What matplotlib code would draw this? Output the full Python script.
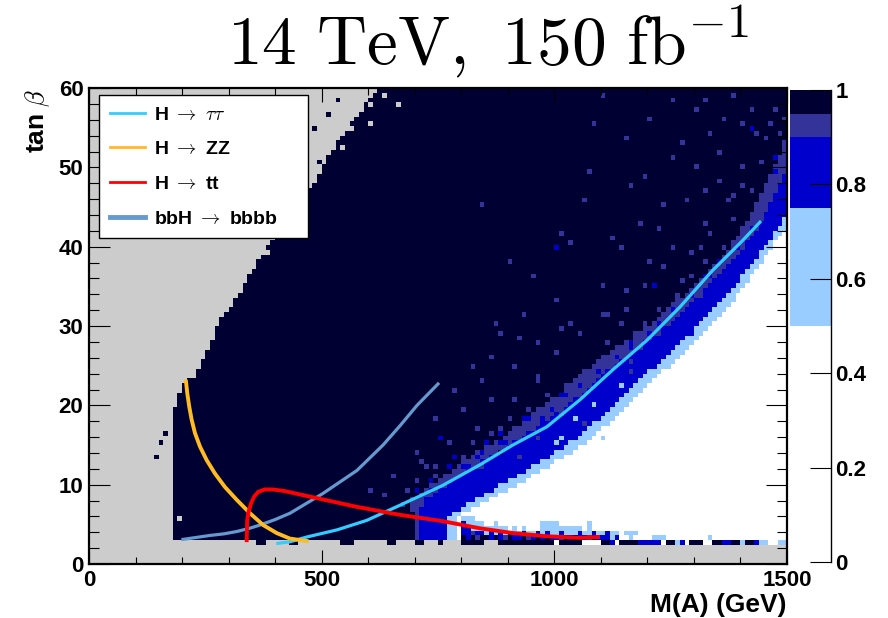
# 2D efficiency map in the (M(A), tan beta) plane with the decay-channel contours on top

import numpy as np
import matplotlib
matplotlib.use("Agg")
import matplotlib.pyplot as plt
from matplotlib.colors import ListedColormap, BoundaryNorm
from matplotlib.lines import Line2D

plt.rcParams['mathtext.fontset'] = 'cm'
plt.rcParams['font.family'] = ['Liberation Sans', 'DejaVu Sans']
plt.rcParams['font.weight'] = 'bold'

# --- histogram binning (10 GeV x 0.6) ---
m_edges = np.arange(0, 1510, 10)
tb_edges = np.round(np.arange(0, 60.001, 0.6), 1)

# --- region boundaries ---
# left edge of the filled region (below it: empty, grey)
left_tb = [3.0, 15, 19, 21, 23, 23.6, 25.5, 28, 30, 31.5, 33.5, 35, 37.5, 41, 44, 47.5, 50, 53, 56, 60]
left_m = [178, 178, 182, 190, 207, 232, 240, 262, 280, 295, 317, 330, 358, 394, 430, 478, 500, 531, 570, 620]

# left edge of the white (< 0.5) region
white_tb = [6, 8.7, 11.8, 15.6, 20, 24.5, 28.9, 33.3, 38.1, 42.7, 48, 60]
white_m = [790, 880, 975, 1075, 1160, 1238, 1318, 1385, 1445, 1500, 1545, 1650]

# band widths (GeV) left of the white region
band_tb = [6, 8, 13, 20, 25, 30, 40, 50, 60]
lightblue_w = [20, 30, 35, 30, 30, 25, 15, 15, 15]
blue_w = [60, 110, 130, 100, 90, 70, 45, 45, 45]
purple_w = [10, 30, 40, 50, 50, 40, 30, 30, 30]

# lowest row (tan b 2.4-3.0), one char per 10 GeV bin, 0..1500
bottom_row = ("gggggggggg" "gggggggggg" "gggggggggg" "ggggggddgg" "gggddggggg"
              "ggggdddggg" "ggggddgggg" "ddgggdgggg"
              "dddddgggdd" "dddddddddd" "wdddddwwww" "ddbwddddbb"
              "bbbwddlbwd" "ddwwddbbdd" "lddbllwwll")

# rows tan b 3.0-6.0 below the white region, M = 800..1490
low_rows = [
    "dbdpddbdbp" "dbbdpbdbdb" "bpdbdbbpdb" "bblbwwlwww" "wlllwwwwww" "wwwlwwwwww" "wwwwwwwwww",
    "bbpbblblbl" "bllbllblbl" "lblllbllbl" "lbllwlllww" "wwwwwwwwww" "wwwwwwwwww" "wwwwwwwwww",
    "bbllllllll" "wlwlwwwlll" "llllllwlww" "wwwwwwwwww" "wwwwwwwwww" "wwwwwwwwww" "wwwwwwwwww",
    "bllllwwlww" "wwwwwwwlll" "lwwwwwwlww" "wwwwwwwwww" "wwwwwwwwww" "wwwwwwwwww" "wwwwwwwwww",
    "lllwwwwwww" "wwwwwwwwww" "wwwwwwwwww" "wwwwwwwwww" "wwwwwwwwww" "wwwwwwwwww" "wwwwwwwwww",
]

# isolated bins: purple
purple_m = [1109, 1328, 1384, 1083, 1274, 1431, 1072, 845, 1062, 1371, 1384, 1227, 1016, 1330, 1313,
            1038, 1296, 1363, 1141, 1234, 1163, 1191, 1380, 1420, 1485, 1285, 1328, 1414, 1191, 1158,
            1270, 1313, 1249, 1038, 1100, 862, 926, 963, 1012, 1034, 1091, 1113, 1169, 1141, 911,
            948, 883, 862, 933, 847, 1169, 1055, 969, 926, 840, 869, 911, 962, 1005, 1055, 1113,
            883, 933, 718, 746, 632, 675, 776, 834, 804, 862, 1440, 1490, 1400, 1350, 1430,
            1490, 1480, 1495, 1470, 1460, 1450, 1420, 1400, 1360, 1330, 1300, 1250, 1200, 1150,
            1250, 1300, 1350, 1400, 1320, 1230, 1180, 1120, 1250, 1200, 1100, 1150, 1000, 950,
            900, 870, 820, 780, 740, 700, 650, 600, 1010, 1060, 960, 890, 830, 760, 720, 690,
            680, 720, 700, 750, 740, 790, 800, 850, 820, 870, 860, 910, 900, 950, 960, 1010,
            980, 1030, 1020, 1070, 1060, 1090, 1100, 1150, 1130, 1180, 1170, 1220, 1190, 1240,
            1220, 1260, 1300, 1290, 1320, 1370, 1360, 1400]
purple_tb = [58.9, 58.3, 58.9, 55.6, 53.0, 54.3, 49.7, 45.0, 45.6, 45.6, 43.7, 42.5, 41.7, 41.7, 40.0,
             40.5, 39.2, 38.1, 39.6, 37.5, 47.5, 49.0, 46.5, 46.9, 49.0, 45.6, 43.1, 42.4, 35.4, 34.3,
             35.5, 33.6, 32.0, 30.1, 31.2, 26.1, 28.2, 22.8, 29.9, 22.3, 25.3, 27.6, 25.7, 30.3, 20.7,
             19.4, 16.9, 14.8, 16.5, 12.4, 24.5, 21.0, 16.0, 13.5, 22.8, 20.7, 24.9, 27.9, 26.6, 29.1,
             31.6, 29.1, 31.5, 13.1, 11.0, 8.9, 7.2, 15.2, 17.3, 19.4, 20.7, 50.5, 52.0, 50.0, 48.0, 45.0,
             56.0, 54.5, 53.0, 57.5, 55.5, 53.5, 57.0, 55.5, 56.0, 54.0, 57.0, 58.5, 56.0, 53.5,
             51.0, 50.0, 52.0, 47.5, 47.0, 45.0, 43.0, 41.0, 40.0, 38.0, 35.0, 32.0, 33.0, 36.0,
             38.0, 30.0, 25.0, 22.0, 18.0, 14.0, 11.0, 9.0, 19.0, 17.5, 23.5, 14.5, 12.0, 10.5, 12.5, 8.0,
             9.0, 9.0, 10.5, 10.5, 12.0, 12.0, 13.5, 13.5, 15.0, 15.0, 16.5, 16.5, 18.0, 18.0, 19.5, 19.5,
             21.0, 21.0, 22.5, 22.5, 24.0, 24.0, 26.0, 26.0, 27.5, 27.5, 29.0, 29.0, 30.5, 30.5,
             32.0, 34.0, 34.0, 36.0, 38.0, 38.0, 40.0, 42.0]
# isolated bins: blue
blue_m = [1425, 1000, 1285, 1212, 1330, 1350, 1260, 1200, 1120, 1050, 980, 900, 820, 760, 750, 847,
          1470, 1450, 1475, 1495, 940, 1020, 880, 800, 730, 1090, 1160,
          700, 730, 770, 810, 780, 830, 850, 890, 880, 940, 930, 970, 990, 1030, 1010,
          1050, 1090, 1110, 1130, 1170, 1160, 1200, 1220, 1250, 1290, 1320, 1350, 1390, 1420]
blue_tb = [55.0, 40.0, 31.2, 35.4, 36.5, 35.0, 30.5, 27.0, 22.0, 18.0, 14.0, 11.0, 9.0, 7.5, 15.6, 14.0,
           51.5, 44.0, 49.5, 48.5, 18.5, 21.5, 15.5, 12.0, 9.5, 24.0, 28.0,
           9.0, 10.5, 12.0, 12.0, 13.5, 13.5, 15.0, 15.0, 16.5, 16.5, 18.0, 18.0, 19.5, 19.5, 21.0,
           22.5, 22.5, 24.0, 26.0, 26.0, 27.5, 29.0, 30.5, 32.0, 34.0, 36.0, 38.0, 40.0, 42.0]
# isolated bins: light blue inside the blue band
lblue_m = [1141, 1083, 1095, 1100, 1000, 1010, 1048]
lblue_tb = [22.3, 19.8, 17.5, 16.2, 15.0, 16.0, 18.0]
# isolated bins: dark (inside the band / out in the grey)
dark_m = [898, 948, 883, 997, 1034, 1084, 1141, 1198, 534, 516, 484, 492, 482, 285, 274, 146, 162, 155]
dark_tb = [17.3, 20.7, 14.3, 22.8, 25.0, 27.3, 29.1, 31.5, 58.3, 56.4, 55.0, 50.9, 47.1, 31.1, 29.7, 13.3, 16.6, 15.3]
# isolated empty bins near the left edge
empty_m = [604, 600, 568, 546, 389, 178, 196, 664, 630]
empty_tb = [57.9, 55.6, 55.0, 52.2, 39.2, 14.0, 5.9, 57.6, 59.3]

# --- channel curves ---
tautau_m = [406, 432, 468, 533, 597, 668, 760, 840, 911, 984, 1055, 1126, 1199, 1270, 1340, 1400, 1442]
tautau_tb = [2.6, 2.8, 3.4, 4.3, 5.5, 7.4, 9.9, 12.5, 15.0, 17.3, 20.7, 24.5, 28.2, 32.4, 37.0, 40.5, 43.1]

zz_m = [208.5, 211.3, 215.6, 220.6, 227.8, 238.6, 252.9, 270.8, 292.3, 317.4, 346, 374.6, 403.4, 432, 467.9]
zz_tb = [23.0, 21.5, 19.8, 18.2, 16.5, 14.8, 13.1, 11.4, 9.7, 8.1, 6.4, 4.9, 3.9, 3.2, 2.9]

tt_m = [339, 340, 343, 348, 355, 364, 378, 395, 420, 490, 576, 668, 760, 840, 911, 984, 1055, 1094]
tt_tb = [3.0, 5.5, 6.6, 7.6, 8.5, 9.1, 9.4, 9.4, 9.2, 8.3, 7.2, 6.2, 5.4, 4.5, 3.9, 3.5, 3.3, 3.4]

bbbb_m = [202, 260, 290, 318, 345, 367, 400, 432, 503, 576, 632, 668, 705, 750]
bbbb_tb = [3.1, 3.6, 3.8, 4.1, 4.5, 4.9, 5.6, 6.4, 8.9, 11.8, 15.0, 17.4, 20.0, 22.7]

# --- palette ---
levels = [0, 0.5, 0.75, 0.9, 0.95, 1.0]
palette = ['#ffffff', '#99ccff', '#0000cc', '#333399', '#000033']
code = {'g': np.nan, 'w': 0.3, 'l': 0.6, 'b': 0.85, 'p': 0.92, 'd': 0.97}

# build the histogram from the boundaries above
nx, ny = len(m_edges) - 1, len(tb_edges) - 1
m_c = m_edges[:-1] + 5.0
z = np.full((ny, nx), np.nan)
for j in range(ny):
    t = tb_edges[j] + 0.3
    if t < 2.4:
        continue
    if t < 3.0:
        z[j] = [code[c] for c in bottom_row]
        continue
    edge = np.interp(t, white_tb, white_m)
    w1 = np.interp(t, band_tb, lightblue_w)
    w2 = w1 + np.interp(t, band_tb, blue_w)
    w3 = w2 + np.interp(t, band_tb, purple_w)
    d = edge - m_c
    row = np.where(d < 0, 0.3, np.where(d < w1, 0.6, np.where(d < w2, 0.85, np.where(d < w3, 0.92, 0.97))))
    if t < 6.0:
        k = int((t - 3.0) // 0.6)
        row[80:] = [code[c] for c in low_rows[k]]
    row[m_c < np.interp(t, left_tb, left_m)] = np.nan
    z[j] = row

for ms, ts, c in [(purple_m, purple_tb, 'p'), (blue_m, blue_tb, 'b'), (lblue_m, lblue_tb, 'l'),
                  (dark_m, dark_tb, 'd'), (empty_m, empty_tb, 'g')]:
    for m, t in zip(ms, ts):
        z[int(t // 0.6), int(m // 10)] = code[c]

cmap = ListedColormap(palette)
norm = BoundaryNorm(levels, cmap.N)

fig = plt.figure(figsize=(8.88, 6.18), dpi=100)
ax = fig.add_axes([0.1002, 0.0874, 0.786, 0.770])
ax.set_facecolor('#cccccc')
mesh = ax.pcolormesh(m_edges, tb_edges, z, cmap=cmap, norm=norm)

ax.plot(bbbb_m, bbbb_tb, color='#6699cc', lw=2.3)
ax.plot(tautau_m, tautau_tb, color='#33ccff', lw=2.3)
ax.plot(zz_m, zz_tb, color='#ffbb22', lw=2.8)
ax.plot(tt_m, tt_tb, color='#ff0000', lw=2.8)

ax.set_xlim(0, 1500)
ax.set_ylim(0, 60)
ax.set_xticks([0, 500, 1000, 1500])
ax.set_xticks(np.arange(0, 1501, 100), minor=True)
ax.set_yticks(np.arange(0, 61, 10))
ax.set_yticks(np.arange(0, 61, 2), minor=True)
ax.tick_params(which='both', direction='in', top=True, right=True, width=0.8, labelsize=16)
ax.tick_params(axis='x', which='major', length=10, pad=4)
ax.tick_params(axis='x', which='minor', length=5)
ax.tick_params(axis='y', which='major', length=15, pad=4)
ax.tick_params(axis='y', which='minor', length=7.5)
for s in ax.spines.values():
    s.set_linewidth(1.6)

ax.set_xlabel('M(A) (GeV)', fontsize=19, fontweight='bold', loc='right', labelpad=2)
ax.set_ylabel(r'tan $\beta$', fontsize=19, fontweight='bold', loc='top', labelpad=5)

handles = [Line2D([], [], color='#33ccff', lw=2),
           Line2D([], [], color='#ffbb22', lw=2),
           Line2D([], [], color='#ff0000', lw=2),
           Line2D([], [], color='#6699cc', lw=3.5)]
labels = [r'H $\rightarrow$ $\tau\tau$', r'H $\rightarrow$ ZZ', r'H $\rightarrow$ tt', r'bbH $\rightarrow$ bbbb']
leg = ax.legend(handles, labels, loc='upper left', bbox_to_anchor=(0.0143, 0.685, 0.2994, 0.30),
                mode='expand', borderaxespad=0, prop={'size': 14, 'weight': 'bold'},
                handlelength=1.8, handletextpad=0.5, labelspacing=0.88, borderpad=0.55,
                fancybox=False, framealpha=1, edgecolor='black')
leg.get_frame().set_linewidth(1.0)

# colour scale
cax = fig.add_axes([0.8896, 0.0906, 0.0462, 0.7638])
cb = fig.colorbar(mesh, cax=cax, spacing='proportional', ticks=[0, 0.2, 0.4, 0.6, 0.8, 1.0])
cb.ax.set_yticklabels(['0', '0.2', '0.4', '0.6', '0.8', '1'])
cb.outline.set_visible(False)
cax.spines['right'].set_visible(True)
cax.spines['right'].set_linewidth(1.0)
cax.tick_params(direction='in', length=15, width=0.8, labelsize=16, pad=3)
cax.minorticks_off()

fig.text(0.55, 0.895, r'$\mathrm{14\ TeV,\ 150\ fb^{-1}}$', fontsize=50, ha='center', va='baseline')

fig.savefig('out.png', dpi=100, facecolor='white')
